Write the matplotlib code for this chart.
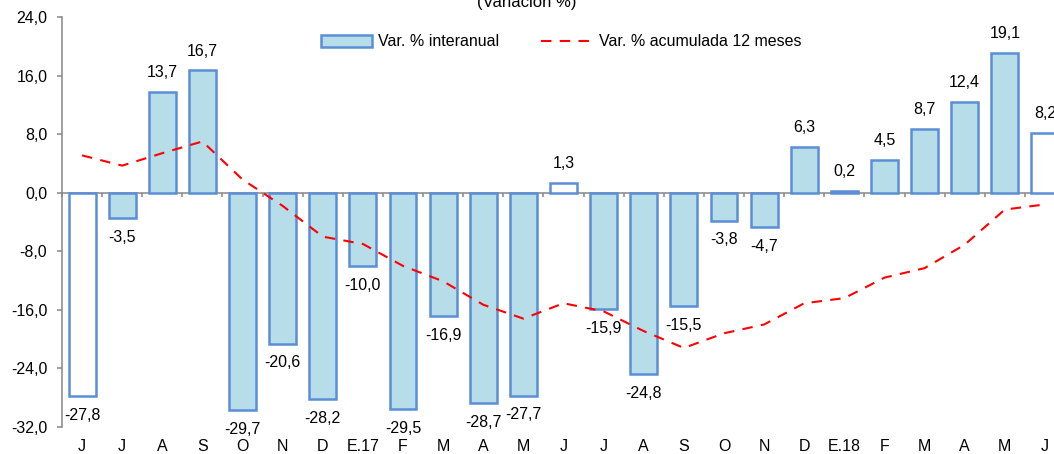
import matplotlib.pyplot as plt
from matplotlib.patches import Patch
from matplotlib.lines import Line2D
from matplotlib.ticker import FuncFormatter

plt.rcParams['font.family'] = ['Liberation Sans', 'DejaVu Sans']

# data
months = ['J', 'J', 'A', 'S', 'O', 'N', 'D', 'E.17', 'F', 'M', 'A', 'M',
          'J', 'J', 'A', 'S', 'O', 'N', 'D', 'E.18', 'F', 'M', 'A', 'M', 'J']
var_interanual = [-27.8, -3.5, 13.7, 16.7, -29.7, -20.6, -28.2, -10.0, -29.5,
                  -16.9, -28.7, -27.7, 1.3, -15.9, -24.8, -15.5, -3.8, -4.7,
                  6.3, 0.2, 4.5, 8.7, 12.4, 19.1, 8.2]
var_acumulada = [5.1, 3.7, 5.4, 7.0, 1.8, -1.8, -6.0, -7.0, -10.0, -12.1,
                 -15.3, -17.2, -15.1, -16.2, -18.9, -21.2, -19.2, -18.0,
                 -15.1, -14.4, -11.6, -10.3, -7.1, -2.3, -1.6]
yticks = [24, 16, 8, 0, -8, -16, -24, -32]

edge = '#5B8ED6'
fill = '#B7DDE8'
grey = '#868686'

fig = plt.figure(figsize=(10.54, 4.54), dpi=100)
ax = fig.add_axes([62 / 1054, 27 / 454, 1003 / 1054, 410 / 454])

x = list(range(len(months)))
# June bars are hollow
colors = ['white' if m == 'J' and i % 12 == 0 else fill for i, m in enumerate(months)]
ax.bar(x, var_interanual, width=0.67, color=colors, edgecolor=edge, linewidth=1.8, zorder=2)
ax.plot(x, var_acumulada, color='#FF0000', linewidth=1.5, dashes=(5, 4), zorder=3)

for xi, v in zip(x, var_interanual):
    off = 14 if v >= 0 else -14
    ax.annotate(f'{v:.1f}'.replace('.', ','), (xi, v), xytext=(0, off),
                textcoords='offset points', ha='center', va='center', fontsize=11.5)

ax.set_xlim(-0.5, len(months) - 0.5)
ax.set_ylim(-32, 24)
ax.set_yticks(yticks)
ax.yaxis.set_major_formatter(FuncFormatter(lambda v, p: f'{v:.1f}'.replace('.', ',')))
ax.set_xticks(x)
ax.set_xticklabels(months)
ax.tick_params(axis='x', length=0, pad=8.5, labelsize=11.5)
ax.tick_params(axis='y', length=3.6, width=1.1, color=grey, pad=7, labelsize=11.5)

for s in ['top', 'right', 'bottom']:
    ax.spines[s].set_visible(False)
ax.spines['left'].set_color(grey)
ax.spines['left'].set_linewidth(1.1)

# axis line through zero with ticks between the months
zero = ax.secondary_xaxis(32 / 56)
zero.set_alignment('bottom')
zero.set_xticks([i - 0.5 for i in x] + [len(months) - 0.5])
zero.set_xticklabels([])
zero.tick_params(length=3, width=1.1, color=grey, direction='out',
                 labelbottom=False, labeltop=False)
zero.spines['bottom'].set_color(grey)
zero.spines['bottom'].set_linewidth(1.1)

fig.text(0.5, 1 - 3 / 454, '(Variación %)', ha='center', va='center', fontsize=12)

handles = [Patch(facecolor=fill, edgecolor=edge, linewidth=1.8),
           Line2D([], [], color='#FF0000', linewidth=1.5, dashes=(5, 4))]
fig.legend(handles, ['Var. % interanual', 'Var. % acumulada 12 meses'],
           loc='center left', bbox_to_anchor=(321 / 1054, 1 - 42 / 454),
           ncol=2, frameon=False, fontsize=11.5, borderpad=0, borderaxespad=0,
           handlelength=3.2, handletextpad=0.4, columnspacing=2.6)

fig.savefig('out.png', dpi=100)
